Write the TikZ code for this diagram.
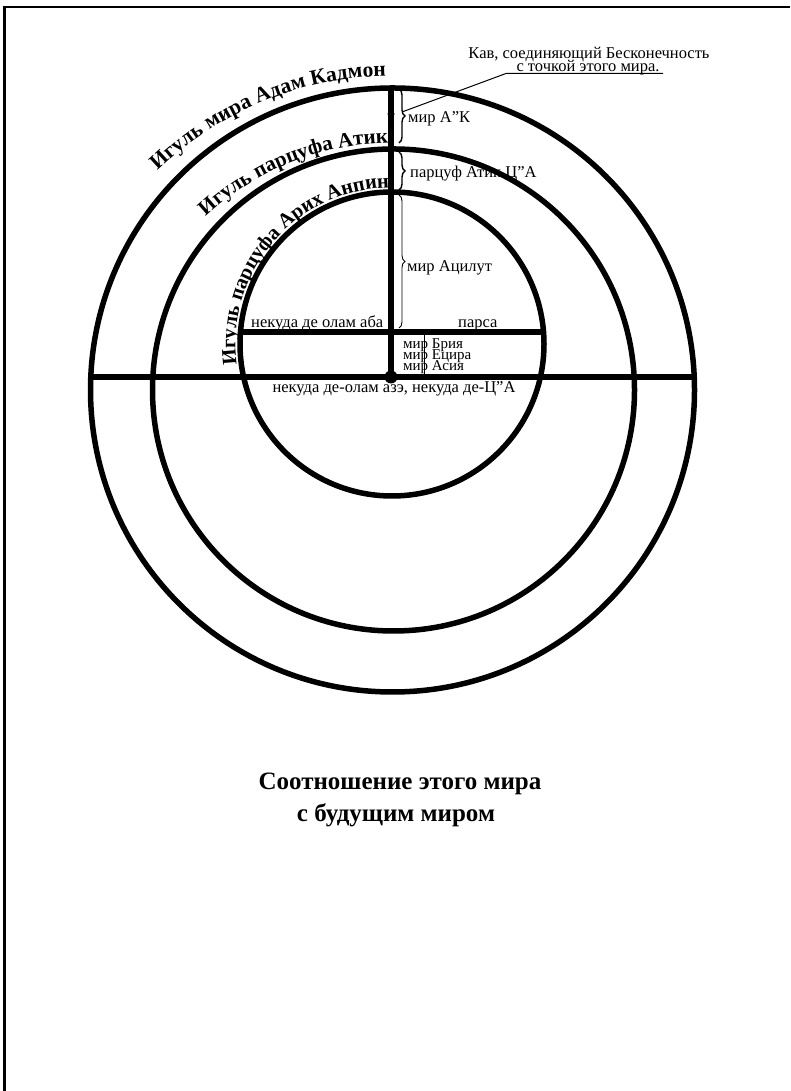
\documentclass[tikz,border=0pt]{standalone}
\usepackage{fontspec}
\setmainfont{Liberation Serif}
\usetikzlibrary{decorations.text,decorations.pathreplacing}
\begin{document}
\begin{tikzpicture}[x=1pt,y=1pt,
  ring/.style={line width=5.5pt},
  bar/.style={line width=5.5pt},
  thinline/.style={line width=0.9pt},
  lbl/.style={inner sep=0pt,font=\fontsize{16.5}{16.5}\selectfont},
  smalllbl/.style={inner sep=0pt,font=\fontsize{15}{15}\selectfont},
  curly/.style={decorate,decoration={brace,amplitude=6pt}},
  arclbl/.style 2 args={decorate,decoration={text along path,text align=right,text={|\bfseries\fontsize{#1}{24}\selectfont|#2}}}
]
\useasboundingbox (0,0) rectangle (790,1091);
\fill[white] (0,0) rectangle (790,1091);
% frame
\draw[line width=2.7pt] (4.7,0) -- (4.7,1084) -- (790,1084);
% centres
\coordinate (Co) at (392.5,701);
\coordinate (Cm) at (393.5,701);
\coordinate (Ci) at (392,747);
% circles
\draw[ring] (Co) circle[radius=302];
\draw[ring] (Cm) circle[radius=241];
\draw[ring] (Ci) circle[radius=152];
% lines
\coordinate (O) at (391,714);
\coordinate (Top) at (391,1003);
\coordinate (HL) at (90.5,714);
\coordinate (HR) at (694.5,714);
\coordinate (PL) at (240.5,759);
\coordinate (PR) at (543.5,759);
\coordinate (TA) at (424,759);
\coordinate (TB) at (424,714);
\draw[bar] (HL) -- (HR);
\draw[bar] (Top) -- (O);
\draw[bar] (PL) -- (PR);
\draw[thinline] (TA) -- (TB);
\fill (O) circle[radius=6.5];
\coordinate (K) at (391,977);
\fill (K) circle[radius=3.5];
% braces
\coordinate (B1a) at (399,1002); \coordinate (B1b) at (399,948);
\coordinate (B2a) at (399,939);  \coordinate (B2b) at (399,901);
\coordinate (B3a) at (399,896);  \coordinate (B3b) at (399,763);
\draw[curly,line width=1.4pt] (B1a) -- (B1b);
\draw[curly,line width=1.4pt] (B2a) -- (B2b);
\draw[curly,thinline] (B3a) -- (B3b);
\node[lbl,anchor=base west] (l1) at (408,968) {мир А”К};
\node[lbl,anchor=base west] (l2) at (410,913) {парцуф Атик Ц”А};
\node[lbl,anchor=base west] (l3) at (407,819) {мир Ацилут};
\node[lbl,anchor=base west] (aba) at (251,763) {некуда де олам аба};
\node[lbl,anchor=base west] (parsa) at (458,763) {парса};
\node[smalllbl,anchor=base west] (w1) at (403,742) {мир Брия};
\node[smalllbl,anchor=base west] (w2) at (403,731) {мир Ецира};
\node[smalllbl,anchor=base west] (w3) at (403,720) {мир Асия};
\node[lbl,anchor=base] (aze) at (394,698) {некуда де-олам азэ, некуда де-Ц”А};
% kav note
\node[lbl,anchor=base] (kav1) at (589,1032) {Кав, соединяющий Бесконечность};
\node[lbl,anchor=base] (kav2) at (588,1019) {с точкой этого мира.};
\coordinate (Ka) at (402,979);
\coordinate (Kb) at (506,1017.5);
\coordinate (Kc) at (663,1017.5);
\draw[line width=1pt] (Ka) -- (Kb) -- (Kc);
% curved labels (arched baselines)
\coordinate (Ao) at (392.5,676);
\coordinate (Am) at (393.5,671.4);
\path[arclbl={21.5}{Игуль мира Адам Кадмон}] ([shift={(150:339)}]Ao) arc[start angle=150,end angle=91.1,radius=339];
\path[arclbl={21}{Игуль парцуфа Атик}] ([shift={(150:276.6)}]Am) arc[start angle=150,end angle=91.1,radius=276.6];
\path[arclbl={20.5}{Игуль парцуфа Арих Анпин}] ([shift={(190:156.5)}]Ci) arc[start angle=190,end angle=91,radius=156.5];
% title
\node[inner sep=0pt,anchor=base,font=\bfseries\fontsize{25}{25}\selectfont] (t1) at (400,301) {Соотношение этого мира};
\node[inner sep=0pt,anchor=base,font=\bfseries\fontsize{25}{25}\selectfont] (t2) at (396,269) {с будущим миром};
\end{tikzpicture}
\end{document}
